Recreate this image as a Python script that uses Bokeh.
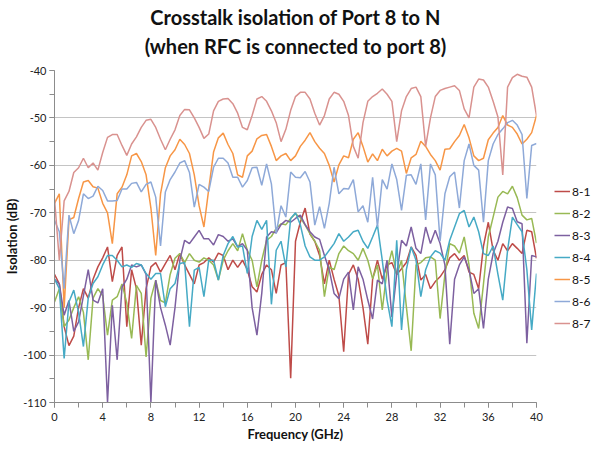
from bokeh.plotting import figure
from bokeh.layouts import row
from bokeh.models import (Legend, LegendItem, Range1d, SingleIntervalTicker,
                          LinearAxis, FixedTicker, CustomJSTickFormatter)
from bokeh.embed import file_html
from bokeh.resources import INLINE

# ---- data ----
FREQ_GHZ = [i * 0.4 for i in range(101)]  # sampling grid 0..40 GHz

S_8_1 = [-83, -85, -94, -98, -96, -90, -86, -88, -84, -81.4,
         -79.5, -77.2, -84.5, -79, -77.2, -94, -82, -86, -97.9, -86,
         -81.4, -80.5, -82.5, -80.7, -79, -82, -78.6, -81, -83, -85,
         -81, -80.5, -79.5, -80.4, -78.5, -79, -82, -80, -81.5, -80,
         -82, -85.6, -86.7, -83, -81, -82, -87, -81, -80.5, -104.9,
         -76, -72, -69, -74.5, -76, -79, -85, -80, -84, -87.5,
         -99.3, -83, -81, -84, -90, -97.7, -84, -80, -84, -81,
         -80.5, -83, -81.8, -80.5, -77.2, -79, -84.2, -83, -86, -84.5,
         -83.5, -82, -79.5, -78.6, -80, -79, -82.5, -83, -86, -77,
         -72, -77.9, -80, -76.5, -78, -76.5, -77.5, -78.6, -73.7, -74,
         -79.6]

S_8_2 = [-88.8, -86, -94, -92.6, -90, -87.7, -91, -101, -88, -86,
         -87.5, -95.8, -88.4, -87.7, -85, -89, -96.5, -85.3, -87, -100.4,
         -88, -84.2, -88.5, -89, -83, -79.6, -78.6, -80.5, -78.6, -80,
         -80.4, -79.5, -80, -81, -84.2, -80, -78, -76.5, -78, -74.4,
         -77.9, -80, -85.6, -80, -75.8, -75, -73.3, -72.3, -72.5, -71.2,
         -70.2, -71, -72.6, -74.4, -76, -77.9, -87.7, -81.4, -82, -78.6,
         -77, -78, -78.6, -80, -77.5, -80, -83.9, -81, -90.5, -82,
         -78, -83, -80, -89.8, -99.1, -81, -80.5, -79.5, -79.3, -80,
         -92.3, -83, -76.5, -77, -78.5, -75.1, -81, -91.2, -94.4, -85,
         -75.1, -70.9, -66.7, -65.5, -66, -64.4, -66.8, -70.5, -71.5, -71.2,
         -76.4]

S_8_3 = [-84, -85, -91.6, -88.5, -95, -93, -87.5, -82, -88.4, -89,
         -86, -110, -89.5, -101, -85.7, -84, -81, -81.4, -81, -83,
         -110, -84.2, -90, -93.7, -97.9, -90, -80, -75.8, -76.5, -75.1,
         -73.7, -75.5, -75.5, -76.8, -74.6, -75, -76, -75.5, -77.2, -76.5,
         -77.9, -90, -95.8, -87, -75.1, -74, -74.2, -72.5, -71.6, -72,
         -71.2, -70.5, -72.5, -74, -75.1, -75.6, -79, -82, -87, -88.1,
         -84, -82.5, -90.5, -81.4, -84, -88.4, -92.4, -84.2, -85, -80,
         -92, -83, -75.8, -77, -73, -77.5, -78.6, -73, -76.5, -73.7,
         -76.5, -81, -97.7, -84, -81, -79.3, -82, -87, -86, -94.4,
         -84, -78.6, -76, -72, -68.8, -69.1, -71.9, -72.3, -97.5, -79,
         -79.3]

S_8_4 = [-84, -86, -100.7, -88.8, -86.3, -91, -98.2, -88, -84.9, -83.5,
         -81, -79, -79, -80, -81.4, -81, -81.5, -80.7, -81, -82.8,
         -84, -82.8, -82.8, -89.8, -86, -84.9, -80.7, -80.5, -94, -82.1,
         -81.5, -87.7, -80, -80, -84.2, -79, -76.5, -75, -77.2, -77,
         -82.8, -75, -71.6, -73.5, -71.6, -89.3, -77.9, -76, -81.4, -71.2,
         -70, -72.5, -77, -79.3, -80, -80, -79.3, -77.9, -76.5, -74.4,
         -76, -75.1, -74, -73.7, -76, -77.5, -75.1, -72.6, -80, -88.4,
         -94, -75.8, -94.7, -82, -77.2, -80, -87.7, -82, -79.3, -78,
         -78.5, -80, -75.8, -73, -70.2, -69.5, -73, -70.9, -74, -78.6,
         -79, -77, -83, -88.4, -77.9, -70.9, -72.5, -74, -82, -94.7,
         -82.8]

S_8_5 = [-68, -66, -90, -71.5, -71, -67, -63.5, -63.2, -64.5, -64.8,
         -68, -70, -76.5, -66, -64.6, -62, -58, -57.5, -59.2, -62,
         -69, -79, -66, -60.5, -58, -56.7, -54.5, -55.6, -57.5, -62,
         -68.5, -73, -65, -57.2, -54.2, -53.2, -55.6, -57.5, -62, -62.5,
         -58, -57, -54.4, -53.7, -53.5, -56, -59, -58, -57.5, -59,
         -58, -56, -54.7, -53.1, -55, -56.4, -57.5, -60, -63.5, -59.9,
         -58, -58.4, -54.5, -53.1, -56, -59.3, -57.6, -59, -56.6, -58,
         -57, -56.4, -57, -61.7, -58.4, -57.7, -54.9, -56, -57.7, -59,
         -61, -56.6, -56.5, -55, -53.7, -51.4, -54.2, -58, -59, -58.5,
         -54.6, -53.2, -52, -49.5, -51.5, -52, -53.4, -55.5, -54.5, -53.1,
         -49.5]

S_8_6 = [-71.6, -74, -86, -70.5, -74.4, -71.6, -66, -67, -66.5, -64.4,
         -65.3, -67.5, -67.5, -67.4, -65, -65, -63.8, -63.6, -65.6, -64,
         -63.5, -66.7, -77, -65.6, -63, -61.4, -59.5, -59, -61.5, -68.8,
         -64, -64.6, -65.5, -60.4, -58.5, -58.5, -59.5, -62.5, -62.5, -64.6,
         -63.2, -60.5, -60.4, -64.2, -59.7, -63.9, -74.4, -68.5, -70.9, -61.4,
         -62.5, -62.6, -61.3, -63.5, -72.6, -68.7, -73.3, -68, -60.4, -66,
         -64.9, -65, -63, -69.8, -68.5, -72, -62.5, -73, -63, -65,
         -59.7, -63, -69.5, -62.1, -62, -64, -59.7, -71.5, -59.7, -62,
         -76, -66, -62.4, -61.4, -69, -59, -55.5, -60, -61, -72,
         -59, -55.5, -53.5, -52.3, -51, -50.5, -51.5, -53.5, -67, -55.8,
         -55.4]

S_8_7 = [-67, -80, -67.5, -65.5, -61.5, -60.5, -58.5, -60.5, -59.5, -61,
         -57.3, -54.1, -53.5, -53.5, -55.8, -57.9, -55.5, -54, -52, -50.5,
         -50.3, -52, -54.5, -56.7, -54.5, -52.5, -49.5, -48.2, -48.3, -50,
         -52, -54.3, -53.4, -48.5, -46.5, -46, -45.9, -47, -49, -52,
         -52.5, -49.5, -46, -45.5, -46.5, -48.5, -51, -55, -52.4, -48.4,
         -45.5, -44.6, -44.6, -46, -49, -51.5, -49.5, -46, -44.6, -45,
         -46.5, -49.5, -56, -58.5, -51, -46.5, -45.5, -44.8, -43.9, -45,
         -46.5, -55, -48.5, -45.5, -43.8, -43.5, -45.5, -56, -50, -45.5,
         -44.2, -43.8, -43.5, -43.2, -44.2, -48.1, -50, -43.5, -41.8, -42,
         -43.5, -46.5, -49.8, -62, -43.5, -41.5, -40.8, -41.2, -41.4, -43.5,
         -49.5]

SERIES_NAMES = ["8-1", "8-2", "8-3", "8-4", "8-5", "8-6", "8-7"]
SERIES_VALUES = [S_8_1, S_8_2, S_8_3, S_8_4, S_8_5, S_8_6, S_8_7]
COLORS = ["#BE4B48", "#98B954", "#7D60A0", "#46AAC5", "#F79646", "#8EA9D8", "#D9928F"]

TITLE_1 = "Crosstalk isolation of Port 8 to N"
TITLE_2 = "(when RFC is connected to port 8)"
X_LABEL = "Frequency (GHz)"
Y_LABEL = "Isolation (dB)"

FONT = "Lato"
X_MIN, X_MAX = 0, 40

# ---- main chart: plot area 54..536 px wide, 70..402 px tall ----
p = figure(width=544, height=449, output_backend="svg",
           toolbar_location=None, title=None,
           x_range=Range1d(X_MIN, X_MAX), y_range=Range1d(-110, -40),
           min_border_left=54, min_border_right=8, min_border_top=70,
           min_border_bottom=47)
p.outline_line_color = None
p.background_fill_color = "white"
p.border_fill_color = "white"
p.xgrid.visible = False
p.ygrid.grid_line_color = "#C4C4C4"
p.ygrid.grid_line_width = 1

p.xaxis.ticker = SingleIntervalTicker(interval=4, num_minor_ticks=2)
p.yaxis.ticker = SingleIntervalTicker(interval=10, num_minor_ticks=2)

plain = CustomJSTickFormatter(code="return String(tick)")
for ax in (p.xaxis, p.yaxis):
    ax.formatter = plain
    ax.axis_line_color = "#8C8C8C"
    ax.major_tick_line_color = "#8C8C8C"
    ax.minor_tick_line_color = "#8C8C8C"
    ax.major_tick_in = 0
    ax.minor_tick_in = 0
    ax.major_tick_out = 5
    ax.minor_tick_out = 5
    ax.major_label_text_font = FONT
    ax.major_label_text_font_size = "11px"
    ax.major_label_text_color = "#222222"
    ax.axis_label_text_font = FONT
    ax.axis_label_text_font_size = "13px"
    ax.axis_label_text_font_style = "bold"
    ax.axis_label_text_color = "#111111"

p.xaxis.major_label_standoff = 5
p.yaxis.major_label_standoff = 3
p.xaxis.axis_label = X_LABEL
p.yaxis.axis_label = Y_LABEL
p.xaxis.axis_label_standoff = 2
p.yaxis.axis_label_standoff = 0

for name, vals, col in zip(SERIES_NAMES, SERIES_VALUES, COLORS):
    p.line(FREQ_GHZ, vals, line_color=col, line_width=1.5)


def title_axis(text, standoff):
    return LinearAxis(ticker=FixedTicker(ticks=[]),
                      axis_label=text, axis_label_standoff=standoff,
                      axis_line_color=None, major_tick_out=0, major_tick_in=0,
                      minor_tick_out=0, minor_tick_in=0,
                      major_label_text_font_size="0px",
                      axis_label_text_font=FONT, axis_label_text_font_size="20px",
                      axis_label_text_font_style="bold",
                      axis_label_text_color="#111111")


p.add_layout(title_axis(TITLE_2, 13), "above")
p.add_layout(title_axis(TITLE_1, 2), "above")

# ---- legend panel to the right of the chart (same series and styles;
#      its own view range lies outside the data, so only the legend shows) ----
lf = figure(width=48, height=449, output_backend="svg", toolbar_location=None,
            x_axis_type=None, y_axis_type=None, min_border=0,
            x_range=Range1d(-2, -1), y_range=Range1d(-110, -40))
lf.outline_line_color = None
lf.background_fill_color = "white"
lf.border_fill_color = "white"

items = []
for name, vals, col in zip(SERIES_NAMES, SERIES_VALUES, COLORS):
    r = lf.line(FREQ_GHZ, vals, line_color=col, line_width=1.5)
    items.append(LegendItem(label=name, renderers=[r]))

legend = Legend(items=items, location=(10, 69))
legend.border_line_color = None
legend.background_fill_alpha = 0
legend.padding = 0
legend.margin = 0
legend.spacing = 2
legend.glyph_width = 16
legend.glyph_height = 20
legend.label_height = 20
legend.label_standoff = 2
legend.label_text_font = FONT
legend.label_text_font_size = "12px"
legend.label_text_color = "#111111"
lf.add_layout(legend)

layout = row(p, lf, spacing=0)
open("out.html", "w").write(file_html(layout, INLINE))
